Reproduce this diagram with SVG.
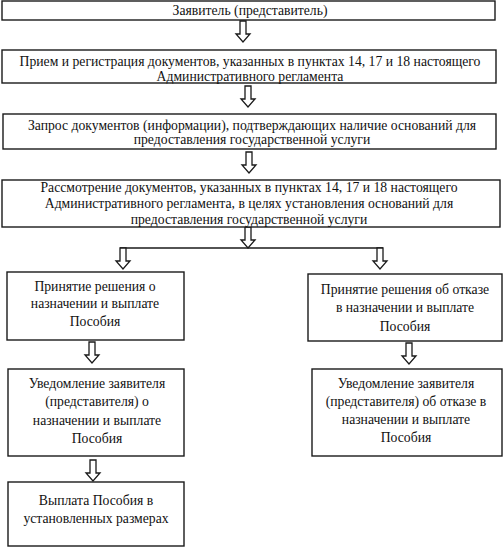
<svg xmlns="http://www.w3.org/2000/svg" xmlns:xlink="http://www.w3.org/1999/xlink" width="503" height="550" viewBox="0 0 503 550">
<style>
.box{fill:#fff;stroke:#1a1a1a;stroke-width:1.4}
.t{font-family:"Liberation Serif","Times New Roman",serif;font-size:13.7px;fill:#111;text-anchor:middle}
.arr{fill:#fff;stroke:#1a1a1a;stroke-width:1.3;stroke-linejoin:miter}
.ln{fill:none;stroke:#1a1a1a;stroke-width:1.4}
</style>
<defs>
<path id="ar" class="arr" d="M-3,0 V13 H-7 L0,21 L7,13 H3 V0 Z"/>
</defs>
<rect width="503" height="550" fill="#fff"/>
<g id="connectors">
<use xlink:href="#ar" href="#ar" x="243" y="21"/>
<use xlink:href="#ar" href="#ar" x="248" y="86"/>
<use xlink:href="#ar" href="#ar" x="249" y="152"/>
<use xlink:href="#ar" href="#ar" x="248" y="227"/>
<path class="ln" d="M120,248 H383"/>
<use xlink:href="#ar" href="#ar" x="123" y="248"/>
<use xlink:href="#ar" href="#ar" x="380" y="248"/>
<use xlink:href="#ar" href="#ar" x="92" y="342"/>
<use xlink:href="#ar" href="#ar" x="409" y="343"/>
<use xlink:href="#ar" href="#ar" x="93" y="460"/>
</g>
<g id="n1">
<rect class="box" x="2" y="1" width="493" height="19"/>
<text class="t" x="250" y="15">Заявитель (представитель)</text>
</g>
<g id="n2">
<rect class="box" x="2" y="50" width="494" height="33"/>
<text class="t" x="250" y="66">Прием и регистрация документов, указанных в пунктах 14, 17 и 18 настоящего</text>
<text class="t" x="250" y="80.5">Административного регламента</text>
</g>
<g id="n3">
<rect class="box" x="3" y="114" width="493" height="35"/>
<text class="t" x="252" y="129.5">Запрос документов (информации), подтверждающих наличие оснований для</text>
<text class="t" x="252" y="144">предоставления государственной услуги</text>
</g>
<g id="n4">
<rect class="box" x="2" y="180" width="498" height="47"/>
<text class="t" x="249" y="191.5">Рассмотрение документов, указанных в пунктах 14, 17 и 18 настоящего</text>
<text class="t" x="249" y="207.5">Административного регламента, в целях установления оснований для</text>
<text class="t" x="249" y="224">предоставления государственной услуги</text>
</g>
<g id="n5">
<rect class="box" x="7" y="272" width="177" height="68"/>
<text class="t" x="95" y="290.5">Принятие решения о</text>
<text class="t" x="95" y="308">назначении и выплате</text>
<text class="t" x="95" y="326">Пособия</text>
</g>
<g id="n6">
<rect class="box" x="308" y="274" width="194" height="67"/>
<text class="t" x="405" y="294">Принятие решения об отказе</text>
<text class="t" x="405" y="312">в назначении и выплате</text>
<text class="t" x="405" y="331">Пособия</text>
</g>
<g id="n7">
<rect class="box" x="8" y="369" width="176" height="87"/>
<text class="t" x="97" y="387.5">Уведомление заявителя</text>
<text class="t" x="97" y="406">(представителя) о</text>
<text class="t" x="97" y="424.5">назначении и выплате</text>
<text class="t" x="97" y="443">Пособия</text>
</g>
<g id="n8">
<rect class="box" x="312" y="369" width="190" height="87"/>
<text class="t" x="406" y="387.5">Уведомление заявителя</text>
<text class="t" x="406" y="406">(представителя) об отказе в</text>
<text class="t" x="406" y="424">назначении и выплате</text>
<text class="t" x="406" y="442">Пособия</text>
</g>
<g id="n9">
<rect class="box" x="8" y="482" width="176" height="64"/>
<text class="t" x="96" y="504.5">Выплата Пособия в</text>
<text class="t" x="96" y="522.5">установленных размерах</text>
</g>
</svg>
